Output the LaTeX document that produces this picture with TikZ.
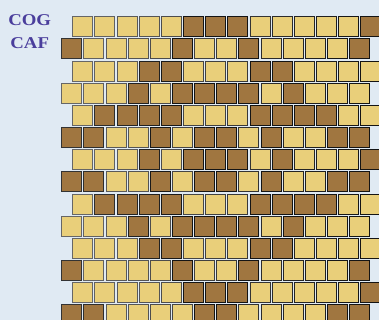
\documentclass[tikz,border=0pt]{standalone}
\usepackage{fontspec}
\newfontfamily\ttlfont{Liberation Serif}
\definecolor{bg}{HTML}{E0EAF3}
\definecolor{lt}{HTML}{E9CF7A}
\definecolor{dk}{HTML}{A07640}
\definecolor{ttl}{HTML}{4A3E9C}
\tikzset{
  cell/.style={draw, line width=1pt, minimum width=20pt, minimum height=20pt, inner sep=0pt, outer sep=0pt, anchor=north west},
  title/.style={font=\ttlfont\fontsize{16.5}{16.5}\selectfont\bfseries, text=ttl, inner sep=0pt, xscale=1.14}
}
\begin{document}
\begin{tikzpicture}[x=1pt,y=-1pt]
\fill[bg] (0,0) rectangle (379,320);
\useasboundingbox (0,0) rectangle (379,320);
\node[title] (cog) at (29.7,20.6) {COG};
\node[title] (caf) at (29.7,43.4) {CAF};
\foreach \r/\pat in {
 0/{0,0,0,0,0,1,1,1,0,0,0,0,0,1},
 1/{1,0,0,0,0,1,0,0,1,0,0,0,0,1},
 2/{0,0,0,1,1,0,0,0,1,1,0,0,0,0},
 3/{0,0,0,1,0,1,1,1,1,0,1,0,0,0},
 4/{0,1,1,1,1,0,0,0,1,1,1,1,0,0},
 5/{1,1,0,0,1,0,1,1,0,1,0,0,1,1},
 6/{0,0,0,1,0,1,1,1,0,1,0,0,0,1},
 7/{1,1,0,0,1,0,1,1,0,1,0,0,1,1},
 8/{0,1,1,1,1,0,0,0,1,1,1,1,0,0},
 9/{0,0,0,1,0,1,1,1,1,0,1,0,0,0},
 10/{0,0,0,1,1,0,0,0,1,1,0,0,0,0},
 11/{1,0,0,0,0,1,0,0,1,0,0,0,0,1},
 12/{0,0,0,0,0,1,1,1,0,0,0,0,0,1},
 13/{1,1,0,0,0,0,1,1,0,0,0,0,1,1}} {
  \pgfmathsetmacro\xo{mod(\r,2)==0 ? 72.3 : 61.2}
  \foreach \v [count=\c from 0] in \pat {
    \pgfmathsetmacro\g{int(min(92,60+\c*2.6+\v*20))}
    \ifnum\v=1 \def\fc{dk}\else\def\fc{lt}\fi
    \node[cell, fill=\fc, draw=black!\g] (c\r-\c) at ({\xo+0.5+\c*22.15},{16.8+\r*22.15}) {};
  }
}
\end{tikzpicture}
\end{document}
